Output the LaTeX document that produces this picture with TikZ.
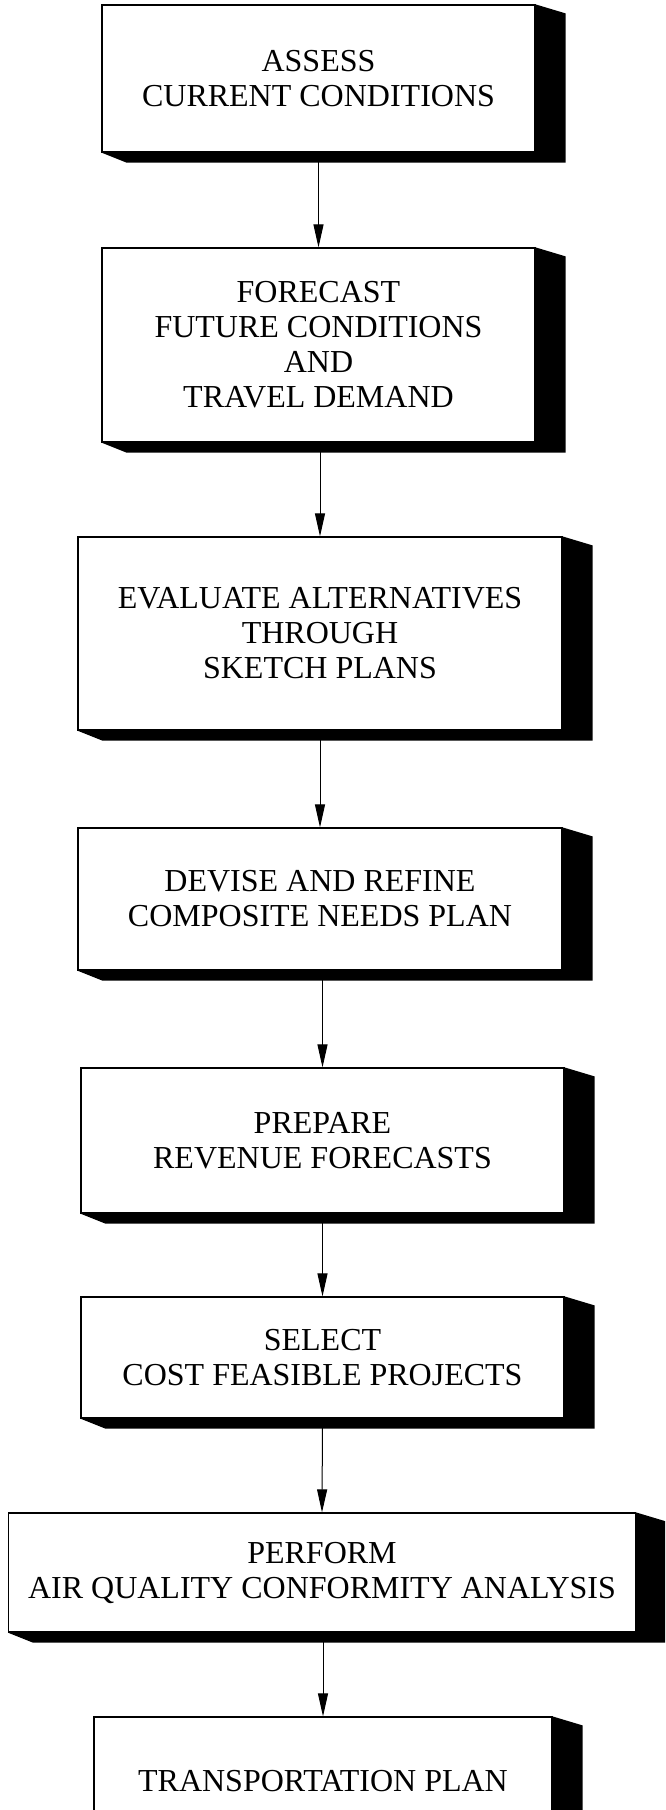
\documentclass[tikz,border=0pt]{standalone}
\usepackage{fontspec}
\setmainfont{Liberation Serif}
\usetikzlibrary{arrows.meta,calc,backgrounds}
\begin{document}
\begin{tikzpicture}[x=1pt,y=-1pt,
  stepbox/.style={draw=black, line width=1.2pt, fill=white, align=center, inner sep=0pt,
    font=\fontsize{32}{35}\selectfont},
  arr/.style={line width=1pt, -{Triangle[length=23pt,width=10pt]}},
  shade/.style={fill=black}]
\useasboundingbox (0,0) rectangle (665,1810);
\node[stepbox, minimum width=433pt, minimum height=147pt] (b1) at (318.5,78.5) {ASSESS\\CURRENT CONDITIONS};
\node[stepbox, minimum width=433pt, minimum height=194pt] (b2) at (318.5,345) {FORECAST\\FUTURE CONDITIONS\\AND\\TRAVEL DEMAND};
\node[stepbox, minimum width=484pt, minimum height=193pt] (b3) at (320,633.5) {EVALUATE ALTERNATIVES\\THROUGH\\SKETCH PLANS};
\node[stepbox, minimum width=484pt, minimum height=142pt] (b4) at (320,899) {DEVISE AND REFINE\\COMPOSITE NEEDS PLAN};
\node[stepbox, minimum width=483pt, minimum height=145pt] (b5) at (322.5,1140.5) {PREPARE\\REVENUE FORECASTS};
\node[stepbox, minimum width=483pt, minimum height=121pt] (b6) at (322.5,1357.5) {SELECT\\COST FEASIBLE PROJECTS};
\node[stepbox, minimum width=627pt, minimum height=119pt] (b7) at (322,1572.5) {PERFORM\\AIR QUALITY CONFORMITY ANALYSIS};
\node[stepbox, minimum width=458pt, minimum height=128pt] (b8) at (323,1781) {TRANSPORTATION PLAN};
\begin{scope}[on background layer]
\clip (0,0) rectangle (665,1810);
\foreach \i in {1,...,8}
  \fill[shade] (b\i.south west) -- ($(b\i.south west)+(25,10)$) -- ($(b\i.south east)+(30,10)$)
    -- ($(b\i.north east)+(30,9)$) -- (b\i.north east) -- cycle;
\end{scope}
\draw[arr] (b1.south) -- (b2.north);
\draw[arr] (b2.south -| b3.north) -- (b3.north);
\draw[arr] (b3.south) -- (b4.north);
\draw[arr] (b4.south -| b5.north) -- (b5.north);
\draw[arr] (b5.south) -- (b6.north);
\draw[arr] (b6.south) -- (b7.north);
\draw[arr] (b7.south -| b8.north) -- (b8.north);
\end{tikzpicture}
\end{document}
